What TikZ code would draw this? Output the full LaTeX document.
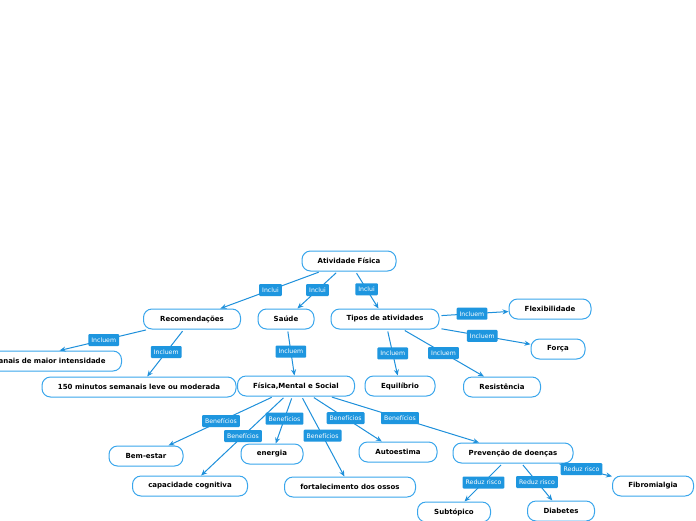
\documentclass[tikz,border=0pt]{standalone}
\usepackage{fontspec}
\setmainfont{DejaVu Sans}
\usetikzlibrary{arrows.meta}
\definecolor{bdr}{HTML}{3AA6EC}
\definecolor{edg}{HTML}{1E90DB}
\definecolor{lblc}{HTML}{1E96DF}
\begin{document}
\begin{tikzpicture}[x=1pt,y=-1pt,
 box/.style={draw=bdr, line width=1pt, rounded corners=8.5pt, fill=white, minimum height=20pt, inner sep=2pt, font=\fontsize{7}{8}\selectfont\bfseries, text=black},
 lbl/.style={fill=lblc, text=white, rounded corners=1pt, inner xsep=3pt, inner ysep=0pt, minimum height=12pt, font=\fontsize{6.2}{7}\selectfont},
 con/.style={draw=edg, line width=1pt, -{Stealth[length=6pt,width=5pt]}, shorten <=2pt}]
\clip (0,0) rectangle (696,520);
\fill[white] (0,0) rectangle (696,520);
% nodes
\node[box, minimum width=94pt] (af) at (349,261) {Atividade Física};
\node[box, minimum width=97pt] (rec) at (192,319) {Recomendações};
\node[box, minimum width=56pt] (sau) at (286,319) {Saúde};
\node[box, minimum width=108pt] (tip) at (385,319) {Tipos de atividades};
\node[box, minimum width=82pt] (flx) at (550,309) {Flexibilidade};
\node[box, minimum width=54pt] (for) at (558,349) {Força};
\node[box, minimum width=70pt] (equ) at (400,386) {Equilíbrio};
\node[box, minimum width=77pt] (res) at (502,387) {Resistência};
\node[box, anchor=east, text width=180pt, align=right, inner xsep=16pt] (mai) at (122,361) {anais de maior intensidade};
\node[box, minimum width=194pt] (cem) at (139,387) {150 minutos semanais leve ou moderada};
\node[box, minimum width=117pt] (fms) at (296,386) {Física,Mental e Social};
\node[box, minimum width=74pt] (bem) at (146,456) {Bem-estar};
\node[box, minimum width=115pt] (cap) at (190,486) {capacidade cognitiva};
\node[box, minimum width=62pt] (ene) at (272,454) {energia};
\node[box, minimum width=131pt] (fos) at (350,487) {fortalecimento dos ossos};
\node[box, minimum width=78pt] (aut) at (398,452) {Autoestima};
\node[box, minimum width=120pt] (pre) at (513,453) {Prevenção de doenças};
\node[box, minimum width=81pt] (fib) at (653,486) {Fibromialgia};
\node[box, minimum width=73pt] (sub) at (454,512) {Subtópico};
\node[box, minimum width=67pt] (dia) at (561,511) {Diabetes};
% connectors
\draw[con] (af) -- node[lbl,pos=0.5] (l1) {Inclui} (rec);
\draw[con] (af) -- node[lbl,pos=0.5] (l2) {Inclui} (sau);
\draw[con] (af) -- node[lbl,pos=0.48] (l3) {Inclui} (tip);
\draw[con] (rec) -- node[lbl,pos=0.5] (l4) {Incluem} (mai);
\draw[con] (rec) -- node[lbl,pos=0.48] (l5) {Incluem} (cem);
\draw[con] (sau) -- node[lbl,pos=0.48] (l6) {Incluem} (fms);
\draw[con] (tip) -- node[lbl,pos=0.47] (l7) {Incluem} (flx);
\draw[con] (tip) -- node[lbl,pos=0.47] (l8) {Incluem} (for);
\draw[con] (tip) -- node[lbl,pos=0.52] (l9) {Incluem} (equ);
\draw[con] (tip) -- node[lbl,pos=0.5] (l10) {Incluem} (res);
\draw[con] (fms) -- node[lbl,pos=0.5] (l11) {Benefícios} (bem);
\draw[con] (fms) -- node[lbl,pos=0.5] (l12) {Benefícios} (cap);
\draw[con] (fms) -- node[lbl,pos=0.47] (l13) {Benefícios} (ene);
\draw[con] (fms) -- node[lbl,pos=0.49] (l14) {Benefícios} (fos);
\draw[con] (fms) -- node[lbl,pos=0.48] (l15) {Benefícios} (aut);
\draw[con] (fms) -- node[lbl,pos=0.47] (l16) {Benefícios} (pre);
\draw[con] (pre) -- node[lbl,pos=0.5] (l17) {Reduz risco} (sub);
\draw[con] (pre) -- node[lbl,pos=0.5] (l18) {Reduz risco} (dia);
\draw[con] (pre) -- node[lbl,pos=0.44] (l19) {Reduz risco} (fib);
\end{tikzpicture}
\end{document}
